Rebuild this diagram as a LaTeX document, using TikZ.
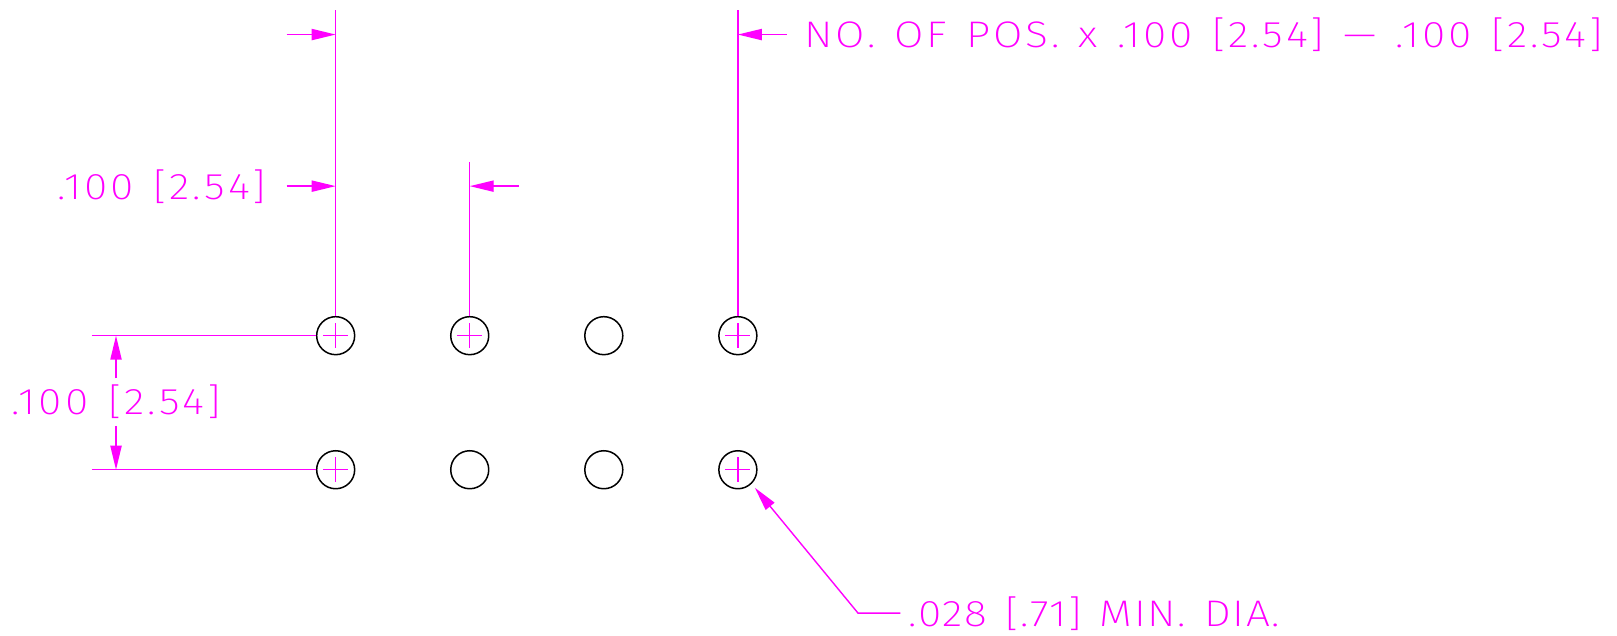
\documentclass[tikz,border=0pt]{standalone}
\usepackage{fontspec}
\setmainfont[LetterSpace=6,WordSpace=1.3,FakeStretch=1.15]{Fira Sans ExtraLight}
\usetikzlibrary{arrows.meta}
\definecolor{cadm}{RGB}{255,0,255}
\tikzset{
  x=0.5156pt,y=-0.5156pt,
  hole/.style={circle,draw=black,line width=0.75pt,inner sep=0pt,minimum size=19pt},
  dimline/.style={draw=cadm,line width=0.7pt},
  dimarrow/.style={dimline,-{Triangle[length=12pt,width=5.6pt,fill=cadm]}},
  dimtext/.style={text=cadm,anchor=west,inner sep=0pt,font=\fontsize{18.5pt}{19pt}\selectfont},
}
\begin{document}
\begin{tikzpicture}
\useasboundingbox (0,0) rectangle (1568,616.7);
% holes
\node[hole] (a1) at (325.5,325.5) {};
\node[hole] (a2) at (455.5,325.5) {};
\node[hole] (a3) at (585.5,325.5) {};
\node[hole] (a4) at (715.5,325.5) {};
\node[hole] (b1) at (325.5,455.5) {};
\node[hole] (b2) at (455.5,455.5) {};
\node[hole] (b3) at (585.5,455.5) {};
\node[hole] (b4) at (715.5,455.5) {};
% centre crosses
\foreach \h in {a1,a2,a4,b1,b4}{
  \draw[dimline] (\h.center) ++(-12,0) -- ++(24,0);
  \draw[dimline] (\h.center) ++(0,-12) -- ++(0,24);
}
% free ends
\coordinate (e1) at (325.5,10);
\coordinate (e2) at (455.5,157);
\coordinate (e4) at (715.5,10);
\coordinate (la) at (89,325.5);
\coordinate (lb) at (89,455.5);
\coordinate (t1) at (278,33.5);
\coordinate (t1h) at (325.5,33.5);
\coordinate (t2) at (278,180.5);
\coordinate (t2h) at (325.5,180.5);
\coordinate (t3) at (503,180.5);
\coordinate (t3h) at (455.5,180.5);
\coordinate (t4) at (763,33.5);
\coordinate (t4h) at (715.5,33.5);
\coordinate (v1) at (112.5,367);
\coordinate (v1h) at (112.5,325.5);
\coordinate (v2) at (112.5,413);
\coordinate (v2h) at (112.5,455.5);
\coordinate (k) at (832,594.5);
\coordinate (k2) at (873,594.5);
\coordinate (kh) at (732,473);
% extension lines
\draw[dimline] (e1) -- (a1.north);
\draw[dimline] (e2) -- (a2.north);
\draw[dimline] (e4) -- (a4.north);
\draw[dimline] (la) -- (a1.west);
\draw[dimline] (lb) -- (b1.west);
% dimension arrows
\draw[dimarrow] (t1) -- (t1h);
\draw[dimarrow] (t2) -- (t2h);
\draw[dimarrow] (t3) -- (t3h);
\draw[dimarrow] (t4) -- (t4h);
\draw[dimarrow] (v1) -- (v1h);
\draw[dimarrow] (v2) -- (v2h);
\draw[dimarrow] (k2) -- (k) -- (kh);
% texts
\node[dimtext] (txt1) at (780,34) {\addfontfeature{LetterSpace=7.4}NO. OF POS. x .100 [2.54] — .100 [2.54]};
\node[dimtext] (txt2) at (55,181) {\addfontfeature{LetterSpace=8}.100 [2.54]};
\node[dimtext] (txt3) at (11,390) {\addfontfeature{LetterSpace=8}.100 [2.54]};
\node[dimtext] (txt4) at (881,595) {\addfontfeature{LetterSpace=4.6}.028 [.71] MIN. DIA.};
\end{tikzpicture}
\end{document}
